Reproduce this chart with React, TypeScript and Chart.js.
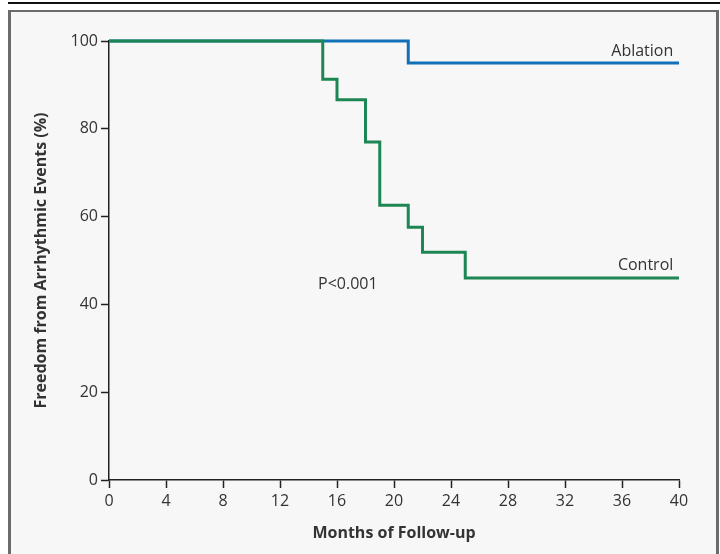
import React, { useEffect, useRef } from "react";
import { Chart, registerables } from "chart.js";

Chart.register(...registerables);

const ablationMonths = [0, 21, 40];
const ablationValues = [100, 95, 95];
const controlMonths = [0, 15, 16, 18, 19, 21, 22, 25, 40];
const controlValues = [100, 91.3, 86.6, 77.0, 62.6, 57.6, 51.9, 46.0, 46.0];
const xTickStep = 4;
const yTickStep = 20;
const xTitle = "Months of Follow-up";
const yTitle = "Freedom from Arrhythmic Events (%)";
const seriesLabels = ["Ablation", "Control"];
const pValueText = "P<0.001";

const FONT = "'Open Sans', 'Noto Sans', sans-serif";
const TEXT = "#333333";

const framePlugin = {
  id: "frame",
  beforeDraw(chart: any) {
    const { ctx, width, height } = chart;
    ctx.save();
    ctx.fillStyle = "#ffffff";
    ctx.fillRect(0, 0, width, height);
    // top black rule
    ctx.fillStyle = "#111111";
    ctx.fillRect(8, 2, width - 8, 2);
    // panel
    ctx.fillStyle = "#f7f7f7";
    ctx.fillRect(8, 10, 711, height - 10);
    ctx.fillStyle = "#6b6b6b";
    ctx.fillRect(8, 10, 3, height - 10);
    ctx.fillRect(8, 10, 711, 2);
    ctx.fillRect(716, 10, 3, height - 10);
    ctx.restore();
  },
  afterDraw(chart: any) {
    const { ctx, chartArea } = chart;
    const xs = chart.scales.x;
    const ys = chart.scales.y;
    ctx.save();
    ctx.fillStyle = TEXT;
    // axis titles
    ctx.font = `bold 16px ${FONT}`;
    ctx.textAlign = "center";
    ctx.textBaseline = "middle";
    ctx.fillText(xTitle, (chartArea.left + chartArea.right) / 2, 533);
    ctx.save();
    ctx.translate(41, (chartArea.top + chartArea.bottom) / 2);
    ctx.rotate(-Math.PI / 2);
    ctx.fillText(yTitle, 0, 0);
    ctx.restore();
    // annotations
    ctx.font = `16px ${FONT}`;
    ctx.textAlign = "right";
    ctx.fillText(seriesLabels[0], xs.getPixelForValue(39.6), ys.getPixelForValue(97.7));
    ctx.fillText(seriesLabels[1], xs.getPixelForValue(39.6), ys.getPixelForValue(48.9));
    ctx.textAlign = "left";
    ctx.fillText(pValueText, xs.getPixelForValue(14.67), ys.getPixelForValue(44.6));
    ctx.restore();
  },
};

export default function App() {
  const canvasRef = useRef<HTMLCanvasElement | null>(null);

  useEffect(() => {
    if (!canvasRef.current) return;
    const chart = new Chart(canvasRef.current, {
      type: "line",
      data: {
        datasets: [
          {
            label: seriesLabels[0],
            data: ablationMonths.map((m, i) => ({ x: m, y: ablationValues[i] })),
            borderColor: "#1170b8",
            borderWidth: 3,
            pointRadius: 0,
            stepped: true,
            fill: false,
            clip: false,
            order: 1,
          },
          {
            label: seriesLabels[1],
            data: controlMonths.map((m, i) => ({ x: m, y: controlValues[i] })),
            borderColor: "#1d8654",
            borderWidth: 3,
            pointRadius: 0,
            stepped: true,
            fill: false,
            clip: false,
            order: 0,
          },
        ],
      },
      options: {
        animation: false,
        responsive: false,
        maintainAspectRatio: false,
        layout: { padding: { left: 0, top: 41, right: 41, bottom: 0 } },
        plugins: {
          legend: { display: false },
          tooltip: { enabled: false },
        },
        scales: {
          x: {
            type: "linear",
            min: 0,
            max: 40,
            afterFit: (s: any) => {
              s.height = 74;
            },
            ticks: {
              stepSize: xTickStep,
              color: TEXT,
              font: { family: FONT, size: 16 },
              padding: 4,
              maxRotation: 0,
            },
            grid: {
              display: true,
              drawOnChartArea: false,
              drawTicks: true,
              tickLength: 8,
              tickColor: "#222",
              tickWidth: 1.5,
            },
            border: { display: true, color: "#222", width: 1.5 },
          },
          y: {
            type: "linear",
            min: 0,
            max: 100,
            afterFit: (s: any) => {
              s.width = 109;
            },
            ticks: {
              stepSize: yTickStep,
              color: TEXT,
              font: { family: FONT, size: 16 },
              padding: 3,
            },
            grid: {
              display: true,
              drawOnChartArea: false,
              drawTicks: true,
              tickLength: 8,
              tickColor: "#222",
              tickWidth: 1.5,
            },
            border: { display: true, color: "#222", width: 1.5 },
          },
        },
      },
      plugins: [framePlugin],
    });
    return () => chart.destroy();
  }, []);

  return (
    <div style={{ position: "fixed", left: 0, top: 0, width: 720, height: 554 }}>
      <canvas ref={canvasRef} width={720} height={554} style={{ display: "block" }} />
    </div>
  );
}
